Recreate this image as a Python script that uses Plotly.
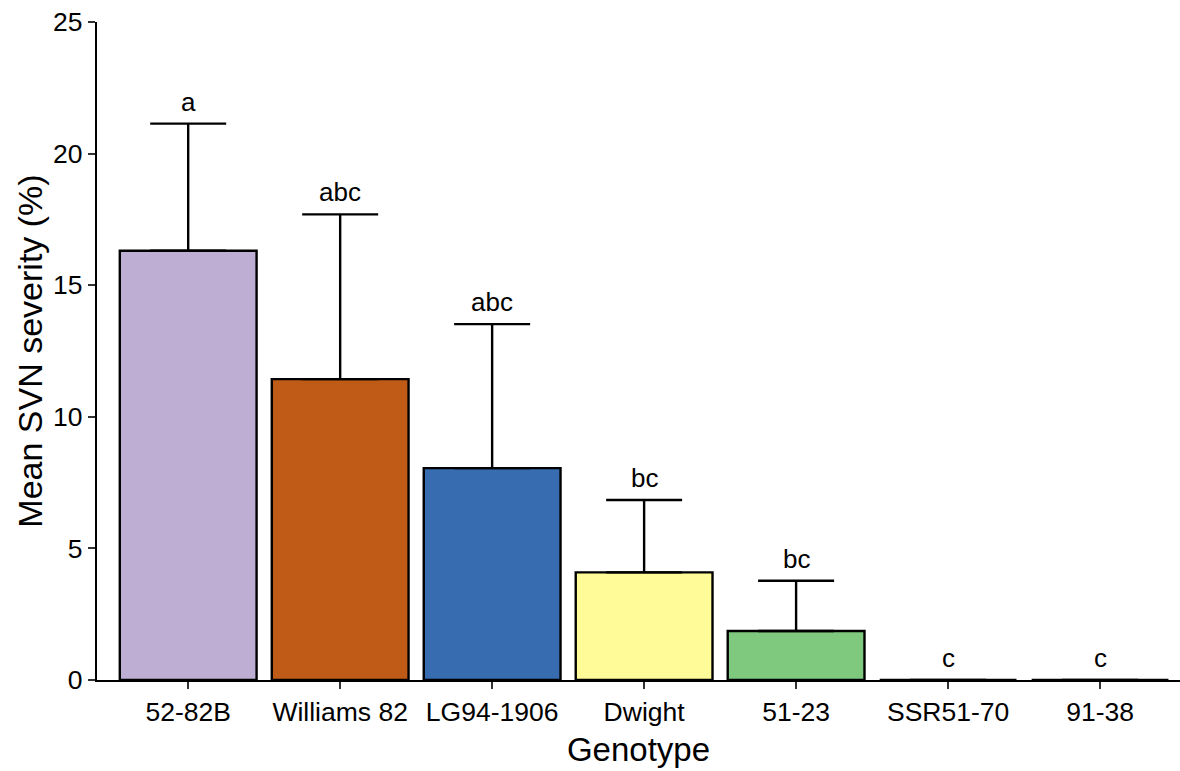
import plotly.graph_objects as go

# Mean SVN severity by genotype, with standard error and Tukey letters
genotypes = ["52-82B", "Williams 82", "LG94-1906", "Dwight", "51-23", "SSR51-70", "91-38"]
mean_severity = [16.31, 11.43, 8.05, 4.09, 1.86, 0.0, 0.0]
std_error = [4.83, 6.26, 5.47, 2.75, 1.91, 0.0, 0.0]
letters = ["a", "abc", "abc", "bc", "bc", "c", "c"]
y_ticks = [0, 5, 10, 15, 20, 25]

bar_colors = ["#BEAED4", "#BF5B17", "#386CB0", "#FFFB99", "#7FC97F", "#FDC086", "#F0027F"]

FONT = "Liberation Sans, Arial, Helvetica, sans-serif"

fig = go.Figure()

fig.add_trace(go.Bar(
    x=genotypes,
    y=mean_severity,
    width=0.9,
    marker=dict(color=bar_colors, line=dict(color="#000000", width=2.4)),
    error_y=dict(
        type="data",
        symmetric=False,
        array=std_error,
        arrayminus=[0] * len(std_error),
        color="#000000",
        thickness=2.4,
        width=38,
    ),
    showlegend=False,
    hoverinfo="skip",
))

upper = [m + s for m, s in zip(mean_severity, std_error)]
for g, top, lab in zip(genotypes, upper, letters):
    fig.add_annotation(
        x=g, y=top, text=lab, showarrow=False,
        yanchor="bottom", yshift=5,
        font=dict(family=FONT, size=26, color="#000000"),
    )

fig.update_layout(
    width=1180,
    height=771,
    margin=dict(l=97, r=0, t=22, b=91),
    paper_bgcolor="white",
    plot_bgcolor="white",
    bargap=0.1,
    font=dict(family=FONT, size=26, color="#000000"),
)

fig.update_xaxes(
    range=[-0.6, 6.526],
    showline=True, linecolor="#000000", linewidth=2.4,
    ticks="outside", ticklen=7, tickwidth=2, tickcolor="#333333",
    tickfont=dict(family=FONT, size=26.5, color="#000000"),
    showgrid=False, zeroline=False,
    title=dict(text="Genotype", font=dict(family=FONT, size=33, color="#000000"), standoff=12),
)

fig.update_yaxes(
    range=[0, 25],
    tickvals=y_ticks,
    showline=True, linecolor="#000000", linewidth=2.4,
    ticks="outside", ticklen=7, tickwidth=2, tickcolor="#333333",
    tickfont=dict(family=FONT, size=26.5, color="#000000"),
    showgrid=False, zeroline=False,
    title=dict(text="Mean SVN severity (%)", font=dict(family=FONT, size=34, color="#000000"), standoff=0),
)

fig.write_html("out.html")
